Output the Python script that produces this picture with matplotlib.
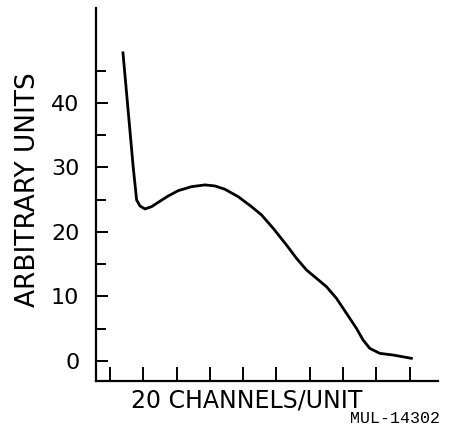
import matplotlib
matplotlib.use("Agg")
import matplotlib.pyplot as plt

# curve (x in tick units, y in arbitrary units)
chan = [0.39, 0.70, 0.80, 0.90, 1.05, 1.25, 1.45, 1.75, 2.05, 2.45, 2.85,
        3.15, 3.45, 3.85, 4.25, 4.55, 4.90, 5.30, 5.60, 5.90, 6.20, 6.50,
        6.80, 7.10, 7.40, 7.60, 7.80, 8.10, 8.50, 9.05]
counts = [47.75, 29.9, 24.96, 24.03, 23.57, 23.92, 24.60, 25.58, 26.40, 27.02, 27.29,
          27.13, 26.62, 25.47, 23.92, 22.64, 20.57, 17.98, 15.92, 14.11, 12.82, 11.52,
          9.72, 7.40, 5.07, 3.26, 1.97, 1.19, 0.93, 0.42]

x_ticks = list(range(10))
y_major = [0, 10, 20, 30, 40]
y_minor = [5, 15, 25, 35, 45]

fig = plt.figure(figsize=(4.49, 4.36), dpi=100)
ax = fig.add_axes([0.2138, 0.1268, 0.7617, 0.8548])

ax.plot(chan, counts, color="black", lw=2.0, solid_joinstyle="round")

ax.set_xlim(-0.42, 9.85)
ax.set_ylim(-3.05, 54.7)

for side in ("top", "right"):
    ax.spines[side].set_visible(False)
for side in ("left", "bottom"):
    ax.spines[side].set_linewidth(1.6)

ax.set_xticks(x_ticks)
ax.set_xticklabels([])
ax.set_yticks(y_major)
ax.set_yticks(y_minor, minor=True)
ax.tick_params(axis="x", direction="in", length=10, width=1.4)
ax.tick_params(axis="y", which="major", direction="in", length=8.6, width=1.4,
               pad=12, labelsize=16)
ax.tick_params(axis="y", which="minor", direction="in", length=7.2, width=1.4)

ax.set_ylabel("ARBITRARY UNITS", fontsize=19)
ax.yaxis.set_label_coords(-0.16, 0.512)
ax.set_xlabel("20 CHANNELS/UNIT", fontsize=17)
ax.xaxis.set_label_coords(0.44, -0.02)

fig.text(395 / 449, 1 - 418 / 436, "MUL-14302", family="Liberation Mono",
         fontsize=12, ha="center", va="center")

fig.savefig("out.png", dpi=100)
